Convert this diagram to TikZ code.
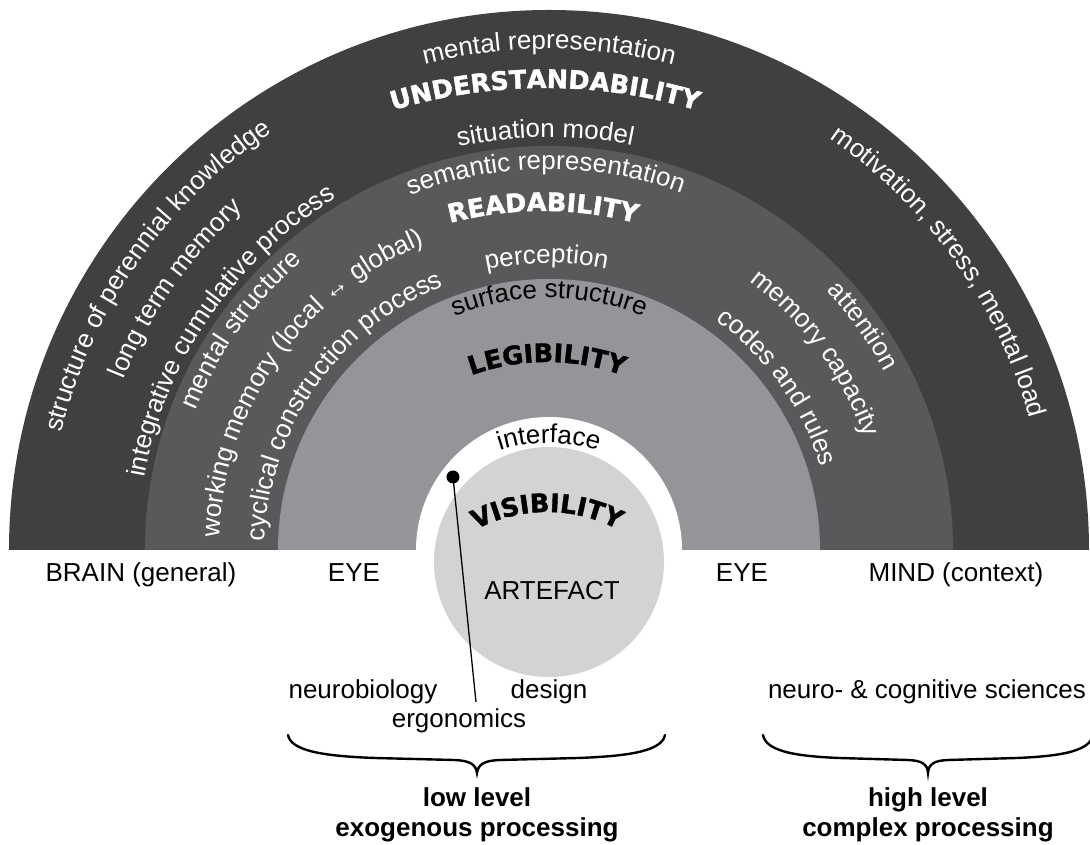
\documentclass[tikz,border=0pt]{standalone}
\usepackage{fontspec}
\setmainfont{Liberation Sans}
\newfontfamily\heavyfont{DejaVu Sans}[BoldFeatures={FakeBold=1.6}]
\usetikzlibrary{decorations.text}

\definecolor{banddark}{RGB}{64,64,64}
\definecolor{bandmid}{RGB}{88,89,91}
\definecolor{bandlight}{RGB}{147,149,152}
\definecolor{artefactgray}{RGB}{209,211,212}
\newcommand{\labelsize}{\fontsize{26}{30}\selectfont}
\newcommand{\titlesize}{\heavyfont\bfseries\fontsize{25.5}{30}\selectfont}

\begin{document}
\begin{tikzpicture}[x=1pt, y=1pt,
    ringtext/.style={decorate, decoration={text along path, text align=center, text color=white, text={|\labelsize|#1}}},
    ringdark/.style={decorate, decoration={text along path, text align=center, text color=black, text={|\labelsize|#1}}},
    ringtitle/.style 2 args={decorate, decoration={text along path, text align=center, text color=#1, text={|\titlesize|#2}}},
    lbl/.style={font=\labelsize, anchor=base, inner sep=0pt},
    bracepath/.style={line width=2.4pt, line cap=round}]
    \useasboundingbox (-549,-295) rectangle (541,550);
    \fill[banddark] (-540,0) arc[start angle=180, end angle=0, radius=540] -- cycle;
    \fill[bandmid] (-404,0) arc[start angle=180, end angle=0, radius=404] -- cycle;
    \fill[bandlight] (-271,0) arc[start angle=180, end angle=0, radius=271] -- cycle;
    \fill[white] (-133,0) arc[start angle=180, end angle=0, radius=133] -- cycle;
    \fill[artefactgray] (0,-12) circle[radius=115];

    \path[ringtext={mental representation}] (125:501) arc[start angle=125, end angle=55, radius=501];
    \path[ringtitle={white}{UNDERSTANDABILITY}, shift={(-4,-67)}] (125:529) arc[start angle=125, end angle=55, radius=529];
    \path[ringtext={situation model}] (125.5:413) arc[start angle=125.5, end angle=55.5, radius=413];
    \path[ringtext={semantic representation}] (125.5:381) arc[start angle=125.5, end angle=55.5, radius=381];
    \path[ringtitle={white}{READABILITY}, shift={(-6,-27)}] (125:366) arc[start angle=125, end angle=55, radius=366];
    \path[ringtext={perception}] (125.5:287) arc[start angle=125.5, end angle=55.5, radius=287];
    \path[ringdark={surface structure}] (125:252) arc[start angle=125, end angle=55, radius=252];
    \path[ringtitle={black}{LEGIBILITY}, shift={(-2,-33)}] (125:221) arc[start angle=125, end angle=55, radius=221];
    \path[ringdark={interface}, shift={(0,-50)}] (125:157) arc[start angle=125, end angle=55, radius=157];
    \path[ringtitle={black}{VISIBILITY}, shift={(-2,-115)}] (125:153) arc[start angle=125, end angle=55, radius=153];

    \path[ringtext={structure of perennial knowledge}] (190:501) arc[start angle=190, end angle=100, radius=501];
    \path[ringtext={long term memory}] (190:458) arc[start angle=190, end angle=100, radius=458];
    \path[ringtext={integrative cumulative process}] (190.5:411) arc[start angle=190.5, end angle=100.5, radius=411];
    \path[ringtext={mental structure}] (189.5:380) arc[start angle=189.5, end angle=99.5, radius=380];
    \path[ringtext={working memory (local ↔ global)}] (190:330) arc[start angle=190, end angle=100, radius=330];
    \path[ringtext={cyclical construction process}] (190:284) arc[start angle=190, end angle=100, radius=284];

    \path[ringtext={motivation, stress, mental load}] (80.5:498) arc[start angle=80.5, end angle=-9.5, radius=498];
    \path[ringtext={attention}] (80.5:380) arc[start angle=80.5, end angle=-9.5, radius=380];
    \path[ringtext={memory capacity}] (81.5:335) arc[start angle=81.5, end angle=-8.5, radius=335];
    \path[ringtext={codes and rules}] (80.5:284) arc[start angle=80.5, end angle=-9.5, radius=284];

    \node[lbl] (brain) at (-408,-32) {BRAIN (general)};
    \node[lbl] (eyeleft) at (-195,-32) {EYE};
    \node[lbl] (artefact) at (3,-50) {ARTEFACT};
    \node[lbl] (eyeright) at (193,-32) {EYE};
    \node[lbl] (mind) at (407,-32) {MIND (context)};
    \node[lbl] (neurobio) at (-186,-149) {neurobiology};
    \node[lbl] (design) at (0,-149) {design};
    \node[lbl] (ergo) at (-90,-178) {ergonomics};
    \node[lbl] (cogsci) at (378,-149) {neuro- \& cognitive sciences};

    \node[circle, fill=black, inner sep=0pt, minimum size=13pt] (dot) at (-96,73) {};
    \coordinate (dotend) at (-73,-152);
    \draw[line width=1.3pt] (dot.center) -- (dotend);

    \draw[bracepath] (-261,-185) .. controls (-258,-200) and (-230,-206) .. (-174,-208) -- (-95,-210)
        .. controls (-80,-210.5) and (-73,-214) .. (-72,-223)
        .. controls (-71,-214) and (-64,-210.5) .. (-49,-210) -- (29,-208)
        .. controls (85,-206) and (113,-200) .. (116,-185);
    \draw[bracepath] (214,-185) .. controls (217,-200) and (241,-206) .. (290,-208) -- (359,-210)
        .. controls (372.5,-210.5) and (378.5,-214) .. (379,-223)
        .. controls (379.5,-214) and (385.5,-210.5) .. (399,-210) -- (468,-208)
        .. controls (517,-206) and (541,-200) .. (544,-185);

    \node[lbl, font=\labelsize\bfseries] (lowlevel) at (-72,-257) {low level};
    \node[lbl, font=\labelsize\bfseries] (exogen) at (-72,-287) {exogenous processing};
    \node[lbl, font=\labelsize\bfseries] (highlevel) at (379,-257) {high level};
    \node[lbl, font=\labelsize\bfseries] (complex) at (379,-287) {complex processing};
\end{tikzpicture}
\end{document}
